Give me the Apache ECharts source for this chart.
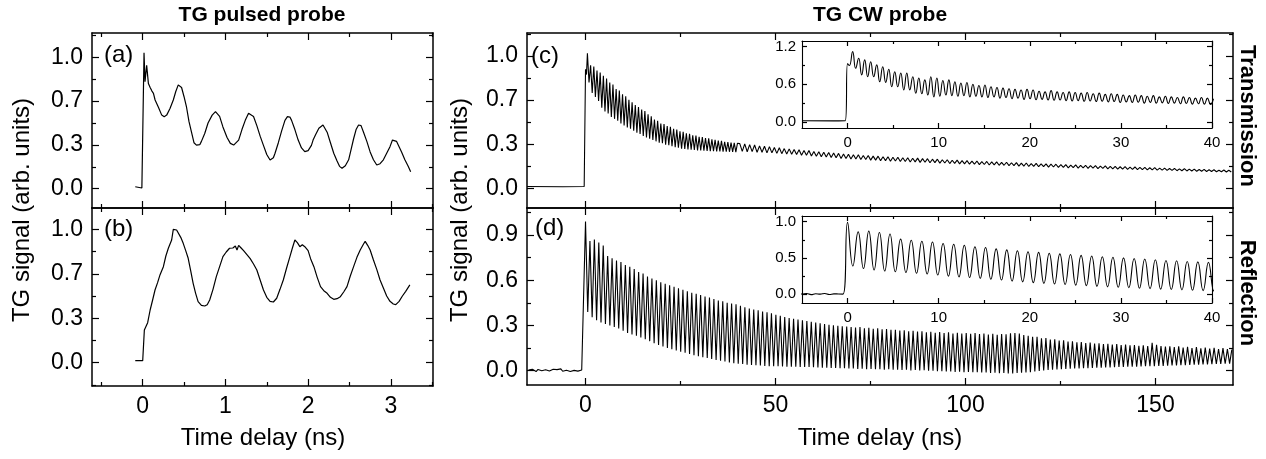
<!DOCTYPE html>
<html><head><meta charset="utf-8">
<script src="https://cdn.jsdelivr.net/npm/echarts@6/dist/echarts.min.js"></script>
<style>html,body{margin:0;padding:0;background:#fff}#c{width:1266px;height:459px}</style>
</head><body><div id="c"></div>
<script>
// ---------- DATA ----------
// (a) TG pulsed probe, transmission
const A_T = [-0.09,-0.01,0.0,0.016,0.028,0.048,0.069,0.09,0.11,0.13,0.15,0.19,0.23,0.26,0.29,0.33,0.37,0.40,0.43,0.45,0.47,0.50,0.53,0.56,0.59,0.62,0.65,0.69,0.71,0.75,0.79,0.84,0.88,0.93,0.97,1.02,1.06,1.10,1.16,1.20,1.24,1.28,1.30,1.34,1.38,1.42,1.46,1.50,1.54,1.58,1.60,1.64,1.68,1.72,1.75,1.78,1.80,1.84,1.88,1.92,1.96,2.00,2.04,2.06,2.09,2.13,2.18,2.20,2.23,2.27,2.31,2.35,2.38,2.41,2.45,2.49,2.52,2.55,2.58,2.61,2.64,2.67,2.71,2.75,2.79,2.83,2.87,2.91,2.95,2.99,3.02,3.04,3.07,3.09,3.13,3.17,3.21,3.24];
const A_V = [0.015,0.005,0.02,1.035,0.815,0.94,0.80,0.77,0.745,0.726,0.675,0.62,0.56,0.548,0.56,0.61,0.675,0.74,0.79,0.80,0.77,0.70,0.62,0.51,0.43,0.35,0.332,0.335,0.36,0.42,0.50,0.56,0.586,0.55,0.47,0.39,0.345,0.332,0.37,0.45,0.52,0.574,0.578,0.55,0.48,0.40,0.33,0.26,0.218,0.235,0.27,0.35,0.44,0.52,0.548,0.545,0.52,0.45,0.37,0.31,0.282,0.29,0.33,0.37,0.41,0.46,0.485,0.47,0.43,0.35,0.27,0.21,0.17,0.155,0.175,0.22,0.30,0.38,0.45,0.485,0.48,0.43,0.36,0.28,0.22,0.18,0.19,0.22,0.27,0.32,0.37,0.376,0.36,0.345,0.28,0.22,0.17,0.129];
// (b) TG pulsed probe, reflection
const B_T = [-0.09,0.0,0.02,0.036,0.06,0.09,0.12,0.149,0.18,0.21,0.25,0.28,0.31,0.35,0.37,0.39,0.41,0.43,0.46,0.49,0.52,0.55,0.58,0.61,0.64,0.67,0.71,0.75,0.78,0.81,0.85,0.89,0.93,0.97,1.01,1.05,1.09,1.12,1.14,1.16,1.19,1.22,1.26,1.30,1.34,1.38,1.42,1.46,1.50,1.54,1.58,1.62,1.66,1.70,1.74,1.78,1.81,1.84,1.87,1.90,1.93,1.96,2.00,2.03,2.07,2.11,2.15,2.19,2.23,2.27,2.31,2.35,2.39,2.43,2.47,2.51,2.55,2.59,2.63,2.67,2.69,2.72,2.75,2.79,2.83,2.87,2.91,2.95,2.99,3.03,3.06,3.10,3.14,3.18,3.23];
const B_V = [0.015,0.015,0.245,0.233,0.30,0.395,0.47,0.545,0.60,0.66,0.72,0.80,0.858,0.92,1.0,0.985,0.995,0.98,0.94,0.895,0.84,0.783,0.69,0.595,0.52,0.458,0.43,0.425,0.435,0.47,0.55,0.645,0.72,0.795,0.83,0.858,0.86,0.875,0.845,0.88,0.86,0.84,0.81,0.78,0.74,0.695,0.62,0.545,0.49,0.46,0.455,0.483,0.55,0.62,0.71,0.795,0.86,0.92,0.90,0.87,0.885,0.87,0.84,0.78,0.72,0.64,0.57,0.54,0.52,0.49,0.475,0.48,0.495,0.53,0.57,0.65,0.72,0.79,0.845,0.89,0.91,0.88,0.845,0.77,0.70,0.62,0.56,0.50,0.46,0.44,0.435,0.46,0.50,0.535,0.583];

// (c) TG CW probe, transmission — main panel
const C_LEAD_T = [-15.4,-6.0,-0.35,0.0,0.25];
const C_LEAD_V = [0.013,0.012,0.013,0.90,0.86];
const C_HEAD_T0 = 0.5, C_HEAD_DT = 0.42;   // alternating peak / trough
const C_HEAD = [1.02,0.80,0.93,0.72,0.92,0.69,0.89,0.66,0.875,0.61,0.85,0.58,0.83,0.565,0.80,0.54,0.785,0.525,0.75,0.51,
0.74,0.49,0.71,0.475,0.695,0.46,0.67,0.45,0.65,0.435,0.63,0.42,0.615,0.41,0.595,0.395,0.585,0.385,0.56,0.375,
0.545,0.365,0.52,0.355,0.51,0.345,0.49,0.34,0.485,0.33,0.47,0.325,0.465,0.318,0.45,0.31,0.445,0.306,0.43,0.30,
0.428,0.298,0.415,0.294,0.412,0.292,0.40,0.29,0.398,0.287,0.39,0.286,0.388,0.284,0.38,0.283,0.377,0.281,0.37,0.281,
0.367,0.279,0.36,0.279,0.358,0.277,0.352,0.277,0.35,0.276,0.345,0.275,0.343,0.274,0.34];
const C_TAIL_T0 = 40.6, C_TAIL_DT = 0.65;
const C_TAIL = [0.338,0.279,0.336,0.276,0.33,0.277,0.327,0.272,0.321,0.273,0.318,0.268,0.315,0.268,0.309,0.264,0.306,0.262,0.30,0.259,
0.298,0.257,0.293,0.255,0.291,0.25,0.286,0.249,0.285,0.244,0.279,0.243,0.277,0.238,0.272,0.237,0.271,0.232,0.266,0.231,
0.264,0.226,0.259,0.225,0.258,0.221,0.253,0.221,0.253,0.217,0.248,0.217,0.248,0.213,0.243,0.213,0.243,0.209,0.239,0.209,
0.239,0.205,0.235,0.206,0.235,0.202,0.231,0.203,0.231,0.199,0.227,0.2,0.228,0.196,0.224,0.197,0.224,0.193,0.22,0.194,
0.22,0.19,0.216,0.191,0.216,0.187,0.212,0.188,0.213,0.185,0.209,0.185,0.209,0.182,0.205,0.182,0.206,0.179,0.202,0.18,
0.203,0.176,0.199,0.177,0.2,0.174,0.196,0.174,0.197,0.171,0.193,0.171,0.194,0.168,0.19,0.168,0.191,0.165,0.187,0.166,
0.188,0.163,0.185,0.163,0.185,0.16,0.182,0.161,0.182,0.158,0.179,0.158,0.179,0.155,0.176,0.156,0.177,0.153,0.173,0.154,
0.174,0.151,0.171,0.152,0.171,0.149,0.168,0.15,0.169,0.147,0.165,0.147,0.166,0.145,0.163,0.145,0.164,0.143,0.16,0.143,
0.161,0.141,0.158,0.141,0.158,0.139,0.155,0.139,0.156,0.137,0.152,0.137,0.153,0.135,0.15,0.135,0.15,0.133,0.147,0.133,
0.148,0.131,0.145,0.131,0.145,0.129,0.142,0.129,0.143,0.127,0.14,0.127,0.14,0.125,0.137,0.125,0.138,0.123,0.136,0.123];

// (c) inset, 0–40 ns
const CI_LEAD_T = [-5,-1.5,-0.25,0.0,0.2];
const CI_LEAD_V = [0.02,0.018,0.02,0.93,0.90];
const CI_T0 = 0.56, CI_DT = 0.33;          // alternating peak / trough
const CI_VALS = [1.12,0.855,1.015,0.75,0.99,0.72,0.96,0.72,0.91,0.64,0.88,0.63,0.84,0.56,0.80,0.56,0.78,0.51,0.78,0.51,
0.72,0.457,0.70,0.45,0.67,0.43,0.72,0.40,0.70,0.41,0.66,0.43,0.67,0.42,0.64,0.41,0.62,0.42,0.63,0.40,
0.60,0.41,0.58,0.40,0.59,0.39,0.56,0.40,0.55,0.38,0.54,0.39,0.53,0.37,0.52,0.38,0.51,0.36,0.52,0.37,
0.51,0.355,0.49,0.36,0.48,0.35,0.50,0.345,0.48,0.35,0.47,0.34,0.48,0.335,0.47,0.34,0.46,0.33,0.47,0.335,
0.45,0.325,0.46,0.33,0.44,0.32,0.45,0.325,0.44,0.31,0.43,0.32,0.42,0.31,0.43,0.315,0.42,0.30,0.41,0.31,
0.42,0.30,0.40,0.305,0.41,0.295,0.40,0.30,0.39,0.29,0.40,0.295,0.39,0.285,0.38,0.29,0.39,0.285,0.38,0.28,0.37];

// (d) TG CW probe, reflection (main + inset)
const D_PRE_T0 = -15, D_PRE_DT = 0.5;
const D_PRE = [0.005,-0.004,0.01,0.002,-0.006,0.008,0.012,0.0,-0.005,0.006,0.011,-0.002,0.004,0.009,-0.003,0.007,0.0,0.012,-0.004,0.006,0.003,0.01,-0.005,0.008,0.002,0.011,-0.003,0.006,0.004,0.002];
const D_T0 = 0, D_DT = 0.5825;             // alternating peak / trough
const D_VALS = [0.99,0.39,0.86,0.355,0.87,0.335,0.85,0.32,0.83,0.31,0.76,0.30,0.745,0.29,0.73,0.28,0.72,0.265,0.70,0.25,
0.69,0.24,0.675,0.232,0.655,0.22,0.645,0.208,0.625,0.196,0.612,0.182,0.60,0.171,0.586,0.16,0.577,0.151,0.566,0.142,
0.556,0.134,0.547,0.126,0.536,0.119,0.527,0.111,0.517,0.102,0.51,0.096,0.501,0.09,0.492,0.084,0.486,0.078,0.476,0.071,
0.466,0.066,0.461,0.061,0.451,0.055,0.446,0.05,0.44,0.046,0.43,0.044,0.421,0.04,0.412,0.038,0.406,0.036,0.40,0.034,
0.392,0.031,0.388,0.03,0.38,0.03,0.371,0.029,0.364,0.028,0.356,0.027,0.35,0.026,0.345,0.026,0.339,0.025,0.334,0.024,
0.329,0.024,0.324,0.023,0.32,0.021,0.315,0.02,0.31,0.019,0.305,0.018,0.301,0.018,0.298,0.016,0.295,0.016,0.292,0.015,
0.29,0.015,0.286,0.012,0.289,0.013,0.282,0.01,0.284,0.012,0.278,0.009,0.281,0.01,0.275,0.007,0.277,0.009,0.271,0.006,
0.272,0.007,0.266,0.004,0.268,0.006,0.262,0.002,0.265,0.004,0.259,0.001,0.262,0.003,0.255,0.0,0.258,0.0,0.252,-0.004,
0.256,-0.003,0.249,-0.006,0.254,-0.005,0.247,-0.008,0.252,-0.007,0.246,-0.01,0.25,-0.008,0.244,-0.011,0.249,-0.01,0.243,-0.012,
0.247,-0.012,0.24,-0.015,0.245,-0.014,0.238,-0.017,0.243,-0.016,0.241,-0.018,0.248,-0.018,0.25,-0.016,0.246,-0.014,0.236,-0.012,
0.232,-0.01,0.224,-0.006,0.224,-0.002,0.215,0.002,0.216,0.004,0.207,0.006,0.208,0.008,0.2,0.01,0.201,0.012,0.194,0.013,
0.195,0.014,0.188,0.015,0.19,0.016,0.184,0.017,0.186,0.018,0.18,0.019,0.182,0.02,0.176,0.021,0.178,0.022,0.173,0.023,
0.176,0.024,0.17,0.025,0.173,0.026,0.168,0.027,0.17,0.027,0.165,0.028,0.168,0.029,0.163,0.03,0.185,0.03,0.172,0.031,
0.163,0.032,0.16,0.033,0.162,0.034,0.156,0.035,0.162,0.036,0.153,0.037,0.159,0.038,0.15,0.039,0.157,0.04,0.148,0.041,
0.154,0.042,0.146,0.043,0.152,0.044,0.144,0.045,0.15,0.046,0.143,0.047,0.14];

// tick / label values
const LX_TICKS = [0,1,2,3], LX_MINOR = [-0.5,0.5,1.5,2.5,3.5];
const Y3_TICKS = [0,1/3,2/3,1], Y3_MINOR = [-1/6,1/6,1/2,5/6,7/6];
const RX_TICKS = [0,50,100,150], RX_MINOR = [25,75,125];
const D_TICKS = [0,0.3,0.6,0.9], D_MINOR = [0.15,0.45,0.75,1.05];
const IX_TICKS = [0,10,20,30,40], IX_MINOR = [5,15,25,35];
const CI_Y_TICKS = [0,0.6,1.2], CI_Y_MINOR = [0.3,0.9];
const DI_Y_TICKS = [0,0.5,1.0], DI_Y_MINOR = [0.25,0.75];

// ---------- BUILD ----------
const FONT = 'Liberation Sans, Arial, sans-serif';
const pairs = (ts, vs) => ts.map((t, i) => [t, vs[i]]);
const uniform = (t0, dt, vs) => vs.map((v, i) => [t0 + i * dt, v]);

const grids = [], xAxes = [], yAxes = [], series = [];
const fmt1 = v => v.toFixed(1);
const fmt0 = v => String(Math.round(v));

function axis(dim, gi, pos, sc, ticks, len, showLine, label, lw, fs, margin) {
  const inRange = ticks.filter(t => t >= sc.min - 1e-9 && t <= sc.max + 1e-9);
  return {
    type: 'value', gridIndex: gi, position: pos, min: sc.min, max: sc.max,
    axisLine: { show: showLine, onZero: false, lineStyle: { color: '#000', width: lw } },
    axisTick: { show: true, inside: true, length: len, customValues: inRange, lineStyle: { color: '#000', width: 1.2 } },
    axisLabel: label ? { show: true, customValues: sc.labels, formatter: sc.fmt, color: '#000', fontSize: fs, fontFamily: FONT, margin: margin } : { show: false },
    splitLine: { show: false }, minorTick: { show: false }, axisPointer: { show: false }
  };
}

function panel(g, xs, ys, lines) {
  const gi = grids.length;
  grids.push({ left: g.left, top: g.top, width: g.width, height: g.height, outerBoundsMode: 'none', containLabel: false, show: !!g.bg, backgroundColor: g.bg || 'transparent', borderWidth: 0 });
  const xi = xAxes.length, yi = yAxes.length;
  xAxes.push(axis('x', gi, 'bottom', xs, xs.labels, g.major, true, !!g.xlab, g.lw, g.fs, g.xm));
  xAxes.push(axis('x', gi, 'bottom', xs, xs.minor, g.minor, false, false, g.lw));
  xAxes.push(axis('x', gi, 'top', xs, xs.labels, g.major, true, false, g.lw));
  xAxes.push(axis('x', gi, 'top', xs, xs.minor, g.minor, false, false, g.lw));
  yAxes.push(axis('y', gi, 'left', ys, ys.labels, g.major, true, true, g.lw, g.fs, g.ym));
  yAxes.push(axis('y', gi, 'left', ys, ys.minor, g.minor, false, false, g.lw));
  yAxes.push(axis('y', gi, 'right', ys, ys.labels, g.major, true, false, g.lw));
  yAxes.push(axis('y', gi, 'right', ys, ys.minor, g.minor, false, false, g.lw));
  lines.forEach(l => series.push({
    type: 'line', xAxisIndex: xi, yAxisIndex: yi, data: l.data, smooth: l.smooth || false,
    showSymbol: false, symbol: 'none', clip: true, silent: true, animation: false, z: 3,
    lineStyle: { color: '#000', width: l.width }
  }));
}

const mainStyle = { lw: 1.5, major: 7, minor: 4, fs: 23, xm: 9, ym: 9 };
const insetStyle = { lw: 1.1, major: 5, minor: 3, fs: 15, xm: 7, ym: 6, xlab: true };

const leftX = { min: -0.613, max: 3.51, labels: LX_TICKS, minor: LX_MINOR, fmt: fmt0 };
const rightX = { min: -15.4, max: 170.4, labels: RX_TICKS, minor: RX_MINOR, fmt: fmt0 };
const insetX = { min: -5, max: 40, labels: IX_TICKS, minor: IX_MINOR, fmt: fmt0 };

const dataD = uniform(D_PRE_T0, D_PRE_DT, D_PRE).concat(uniform(D_T0, D_DT, D_VALS));

panel(Object.assign({ left: 92, top: 33, width: 341, height: 175 }, mainStyle), leftX,
  { min: -0.147, max: 1.185, labels: Y3_TICKS, minor: Y3_MINOR, fmt: fmt1 },
  [{ data: pairs(A_T, A_V), width: 1.2 }]);
panel(Object.assign({ left: 92, top: 208, width: 341, height: 178, xlab: true }, mainStyle), leftX,
  { min: -0.175, max: 1.16, labels: Y3_TICKS, minor: Y3_MINOR, fmt: fmt1 },
  [{ data: pairs(B_T, B_V), width: 1.2 }]);
panel(Object.assign({ left: 527, top: 33, width: 706, height: 175 }, mainStyle), rightX,
  { min: -0.149, max: 1.174, labels: Y3_TICKS, minor: Y3_MINOR, fmt: fmt1 },
  [{ data: pairs(C_LEAD_T, C_LEAD_V).concat(uniform(C_HEAD_T0, C_HEAD_DT, C_HEAD), uniform(C_TAIL_T0, C_TAIL_DT, C_TAIL)), width: 1.1 }]);
panel(Object.assign({ left: 527, top: 208, width: 706, height: 177, xlab: true }, mainStyle), rightX,
  { min: -0.095, max: 1.079, labels: D_TICKS, minor: D_MINOR, fmt: fmt1 },
  [{ data: dataD, width: 1.1 }]);
panel(Object.assign({ left: 802, top: 41, width: 410, height: 87, bg: '#fff' }, insetStyle), insetX,
  { min: -0.096, max: 1.29, labels: CI_Y_TICKS, minor: CI_Y_MINOR, fmt: fmt1 },
  [{ data: pairs(CI_LEAD_T, CI_LEAD_V).concat(uniform(CI_T0, CI_DT, CI_VALS)), width: 1.1, smooth: 0.5 }]);
panel(Object.assign({ left: 802, top: 216, width: 410, height: 87, bg: '#fff' }, insetStyle), insetX,
  { min: -0.12, max: 1.078, labels: DI_Y_TICKS, minor: DI_Y_MINOR, fmt: fmt1 },
  [{ data: dataD, width: 1.1, smooth: 0.5 }]);

function txt(text, x, y, size, opts) {
  opts = opts || {};
  return { type: 'text', x: x, y: y, rotation: opts.rot || 0, z: 10, silent: true,
    style: { text: text, fill: '#000', fontSize: size, fontFamily: FONT, fontWeight: opts.bold ? 'bold' : 'normal',
      align: opts.align || 'center', verticalAlign: 'middle', textAlign: opts.align || 'center', textVerticalAlign: 'middle' } };
}

const graphics = [
  txt('TG pulsed probe', 262, 15, 21, { bold: true }),
  txt('TG CW probe', 880, 15, 21, { bold: true }),
  txt('Time delay (ns)', 263, 438, 24),
  txt('Time delay (ns)', 880, 438, 24),
  txt('TG signal (arb. units)', 22, 210, 24, { rot: Math.PI / 2 }),
  txt('TG signal (arb. units)', 460, 210, 24, { rot: Math.PI / 2 }),
  txt('Transmission', 1247, 116, 22, { bold: true, rot: -Math.PI / 2 }),
  txt('Reflection', 1247, 293, 22, { bold: true, rot: -Math.PI / 2 }),
  txt('(a)', 104, 55, 24, { align: 'left' }),
  txt('(b)', 104, 229, 24, { align: 'left' }),
  txt('(c)', 531, 56, 24, { align: 'left' }),
  txt('(d)', 535, 228, 24, { align: 'left' })
];

const chart = echarts.init(document.getElementById('c'), null, { renderer: 'canvas', width: 1266, height: 459 });
chart.setOption({
  backgroundColor: '#fff',
  animation: false,
  textStyle: { fontFamily: FONT },
  grid: grids, xAxis: xAxes, yAxis: yAxes, series: series, graphic: graphics
});
</script></body></html>
